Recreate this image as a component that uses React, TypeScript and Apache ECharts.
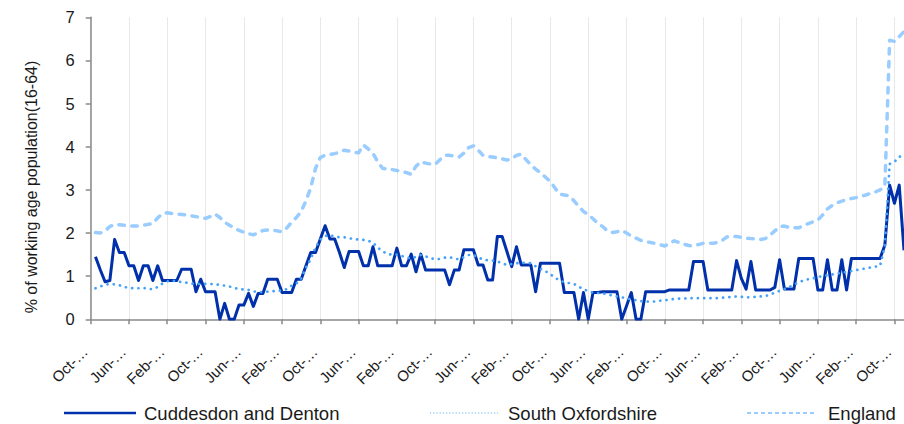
import React, { useEffect, useRef } from "react";
import * as echarts from "echarts";

const FONT = '"Liberation Sans", Arial, sans-serif';

const MONTHS = ["Jan", "Feb", "Mar", "Apr", "May", "Jun", "Jul", "Aug", "Sep", "Oct", "Nov", "Dec"];
const FIRST_YEAR = 2006;
const FIRST_MONTH = 9; // October
const CATEGORY_COUNT = 171;
const CATEGORIES: string[] = Array.from({ length: CATEGORY_COUNT }, (_, k) => {
  const m = FIRST_MONTH + k;
  const yy = String((FIRST_YEAR + Math.floor(m / 12)) % 100).padStart(2, "0");
  return `${MONTHS[m % 12]}-${yy}`;
});

const SERIES_NAMES = ["Cuddesdon and Denton", "South Oxfordshire", "England"];
const SERIES_COLORS = ["#0030AA", "#45A2F8", "#99CCFF"];
const Y_AXIS_TITLE = "% of working age population(16-64)";

const CUDDESDON = [
  1.45, 1.15, 0.87, 0.9, 1.85, 1.55, 1.55, 1.24, 1.24, 0.9,
  1.24, 1.24, 0.9, 1.24, 0.9, 0.9, 0.9, 0.9, 1.16, 1.16,
  1.16, 0.64, 0.93, 0.64, 0.64, 0.64, 0, 0.37, 0, 0,
  0.33, 0.33, 0.6, 0.3, 0.6, 0.6, 0.93, 0.93, 0.93, 0.62,
  0.62, 0.62, 0.93, 0.93, 1.24, 1.55, 1.55, 1.86, 2.17, 1.86,
  1.86, 1.55, 1.2, 1.57, 1.57, 1.57, 1.24, 1.24, 1.68, 1.24,
  1.24, 1.24, 1.24, 1.65, 1.24, 1.24, 1.51, 1.1, 1.51, 1.14,
  1.14, 1.14, 1.14, 1.14, 0.8, 1.14, 1.14, 1.61, 1.61, 1.61,
  1.26, 1.26, 0.91, 0.91, 1.92, 1.92, 1.57, 1.22, 1.68, 1.26,
  1.26, 1.26, 0.64, 1.3, 1.3, 1.3, 1.3, 1.3, 0.62, 0.62,
  0.62, 0, 0.62, 0, 0.62, 0.62, 0.64, 0.64, 0.64, 0.64,
  0, 0.31, 0.62, 0, 0, 0.64, 0.64, 0.64, 0.64, 0.64,
  0.68, 0.68, 0.68, 0.68, 0.68, 1.34, 1.34, 1.34, 0.68, 0.68,
  0.68, 0.68, 0.68, 0.68, 1.36, 0.95, 0.7, 1.34, 0.68, 0.68,
  0.68, 0.68, 0.74, 1.38, 0.7, 0.7, 0.7, 1.41, 1.41, 1.41,
  1.41, 0.68, 0.68, 1.38, 0.68, 0.68, 1.38, 0.68, 1.41, 1.41,
  1.41, 1.41, 1.41, 1.41, 1.41, 1.72, 3.11, 2.69, 3.11, 1.6,
];

const SOUTH_OXFORDSHIRE = [
  0.72, 0.76, 0.8, 0.82, 0.81, 0.79, 0.75, 0.73, 0.72, 0.72,
  0.73, 0.7, 0.7, 0.75, 0.83, 0.88, 0.9, 0.88, 0.86, 0.85,
  0.83, 0.82, 0.82, 0.82, 0.82, 0.81, 0.8, 0.78, 0.76, 0.73,
  0.7, 0.69, 0.68, 0.65, 0.63, 0.63, 0.64, 0.65, 0.66, 0.67,
  0.7, 0.78, 0.83, 0.95, 1.2, 1.4, 1.67, 1.85, 1.93, 1.95,
  1.92, 1.9, 1.9, 1.88, 1.86, 1.85, 1.84, 1.82, 1.78, 1.66,
  1.58, 1.51, 1.5, 1.5, 1.47, 1.43, 1.41, 1.45, 1.49, 1.46,
  1.42, 1.39, 1.4, 1.43, 1.44, 1.41, 1.39, 1.44, 1.49, 1.49,
  1.44, 1.38, 1.37, 1.36, 1.34, 1.3, 1.26, 1.28, 1.3, 1.31,
  1.31, 1.3, 1.23, 1.17, 1.12, 1.05, 0.97, 0.9, 0.86, 0.84,
  0.82, 0.76, 0.69, 0.66, 0.62, 0.61, 0.6, 0.58, 0.55, 0.53,
  0.51, 0.49, 0.46, 0.44, 0.42, 0.41, 0.41, 0.41, 0.43, 0.44,
  0.46, 0.47, 0.48, 0.48, 0.49, 0.49, 0.49, 0.49, 0.49, 0.49,
  0.49, 0.5, 0.51, 0.52, 0.53, 0.52, 0.51, 0.51, 0.52, 0.53,
  0.54, 0.57, 0.62, 0.66, 0.7, 0.75, 0.8, 0.86, 0.9, 0.93,
  0.95, 0.98, 1.0, 1.02, 1.04, 1.06, 1.08, 1.1, 1.12, 1.14,
  1.16, 1.18, 1.2, 1.22, 1.24, 1.7, 3.6, 3.65, 3.77, 3.77,
];

const ENGLAND = [
  2.01, 2.0, 2.05, 2.15, 2.2, 2.19, 2.18, 2.17, 2.16, 2.16,
  2.18, 2.2, 2.22, 2.35, 2.45, 2.47, 2.45, 2.44, 2.43, 2.42,
  2.4, 2.38, 2.36, 2.34, 2.38, 2.44, 2.36, 2.25, 2.18, 2.12,
  2.06, 2.02, 1.98, 1.96, 2.0, 2.06, 2.07, 2.07, 2.05, 2.03,
  2.12, 2.25, 2.36, 2.5, 2.75, 3.05, 3.5, 3.75, 3.8, 3.82,
  3.84, 3.87, 3.92, 3.9, 3.87, 3.86, 4.04, 3.95, 3.85, 3.65,
  3.5, 3.48, 3.47, 3.45, 3.43, 3.4, 3.36, 3.55, 3.65, 3.62,
  3.6, 3.59, 3.7, 3.8, 3.8, 3.78, 3.76, 3.85, 3.98, 4.02,
  3.92, 3.8, 3.77, 3.76, 3.74, 3.72, 3.69, 3.72, 3.8, 3.83,
  3.7, 3.58, 3.48, 3.4, 3.3, 3.2, 3.05, 2.9, 2.88, 2.86,
  2.75, 2.62, 2.5, 2.43, 2.33, 2.22, 2.15, 2.05, 2.01, 2.03,
  2.06, 2.0, 1.93, 1.88, 1.83, 1.8, 1.78, 1.76, 1.73, 1.7,
  1.76, 1.82, 1.78, 1.74, 1.71, 1.7, 1.73, 1.76, 1.76, 1.76,
  1.78, 1.83, 1.91, 1.92, 1.92, 1.9, 1.88, 1.87, 1.86, 1.85,
  1.87, 1.95, 2.05, 2.15, 2.16, 2.13, 2.12, 2.12, 2.17, 2.22,
  2.26, 2.3, 2.42, 2.56, 2.64, 2.7, 2.74, 2.77, 2.8, 2.82,
  2.85, 2.88, 2.92, 2.95, 3.0, 3.08, 6.47, 6.44, 6.55, 6.67,
];

const AXIS_COLOR = "#8a8a8a";
const TEXT_COLOR = "#1a1a1a";

export default function App() {
  const ref = useRef<HTMLDivElement>(null);

  useEffect(() => {
    if (!ref.current) return;
    const chart = echarts.init(ref.current, undefined, { renderer: "svg" });
    const pad = (arr: number[]) => [null, ...arr];

    const legendY = 413;
    const legendItems = [
      { x1: 64, x2: 136, tx: 144, stroke: SERIES_COLORS[0], lineWidth: 2.6, lineDash: null as number[] | null, cap: "butt" },
      { x1: 430, x2: 498, tx: 508, stroke: "#9ccdfa", lineWidth: 1.3, lineDash: [1.2, 2], cap: "butt" },
      { x1: 747, x2: 817, tx: 828, stroke: SERIES_COLORS[2], lineWidth: 2.2, lineDash: [4, 3], cap: "butt" },
    ];
    const legendGraphics: any[] = [];
    legendItems.forEach((it, i) => {
      legendGraphics.push({
        type: "line",
        shape: { x1: it.x1, y1: legendY, x2: it.x2, y2: legendY },
        style: { stroke: it.stroke, lineWidth: it.lineWidth, lineDash: it.lineDash, lineCap: it.cap },
        silent: true,
      });
      legendGraphics.push({
        type: "text",
        x: it.tx,
        y: legendY,
        style: {
          text: SERIES_NAMES[i],
          font: `18.5px ${FONT}`,
          fill: TEXT_COLOR,
          align: "left",
          verticalAlign: "middle",
        },
        silent: true,
      });
    });

    chart.setOption({
      animation: false,
      textStyle: { fontFamily: FONT },
      grid: { left: 90.7, top: 17.3, width: 814, height: 302, containLabel: false },
      xAxis: {
        type: "category",
        data: CATEGORIES,
        boundaryGap: false,
        axisLine: { show: true, lineStyle: { color: AXIS_COLOR, width: 1.5 } },
        axisTick: { show: true, interval: 7, length: 5, lineStyle: { color: AXIS_COLOR, width: 1.5 } },
        axisLabel: {
          interval: 7,
          rotate: 45,
          margin: 24,
          padding: [0, 8, 0, 0],
          fontSize: 15,
          fontFamily: FONT,
          color: TEXT_COLOR,
          formatter: (v: string) => `${v.split("-")[0]}-…`,
        },
        splitLine: { show: true, interval: 7, lineStyle: { color: "#e8e8e8", width: 1 } },
      },
      yAxis: {
        type: "value",
        min: 0,
        max: 7,
        interval: 1,
        axisLine: { show: true, lineStyle: { color: AXIS_COLOR, width: 1.5 } },
        axisTick: { show: true, length: 5, lineStyle: { color: AXIS_COLOR, width: 1.5 } },
        axisLabel: { margin: 16, fontSize: 16.5, fontFamily: FONT, color: TEXT_COLOR },
        splitLine: { show: false },
      },
      graphic: [
        {
          type: "text",
          x: 31,
          y: 187,
          rotation: Math.PI / 2,
          style: {
            text: Y_AXIS_TITLE,
            font: `16px ${FONT}`,
            fill: TEXT_COLOR,
            align: "center",
            verticalAlign: "middle",
          },
          silent: true,
        },
        ...legendGraphics,
      ],
      series: [
        {
          name: SERIES_NAMES[0],
          type: "line",
          data: pad(CUDDESDON),
          showSymbol: false,
          symbol: "none",
          lineStyle: { color: SERIES_COLORS[0], width: 3, join: "round" },
          itemStyle: { color: SERIES_COLORS[0] },
        },
        {
          name: SERIES_NAMES[1],
          type: "line",
          data: pad(SOUTH_OXFORDSHIRE),
          showSymbol: false,
          symbol: "none",
          lineStyle: { color: SERIES_COLORS[1], width: 2.7, type: [0.1, 6.2], cap: "round", join: "round" },
          itemStyle: { color: SERIES_COLORS[1] },
        },
        {
          name: SERIES_NAMES[2],
          type: "line",
          data: pad(ENGLAND),
          showSymbol: false,
          symbol: "none",
          lineStyle: { color: SERIES_COLORS[2], width: 3.5, type: [5.5, 7.5], cap: "round", join: "round" },
          itemStyle: { color: SERIES_COLORS[2] },
        },
      ],
    });
    return () => chart.dispose();
  }, []);

  return (
    <div
      ref={ref}
      style={{ position: "fixed", left: 0, top: 0, width: 904, height: 424, background: "#fff" }}
    />
  );
}
